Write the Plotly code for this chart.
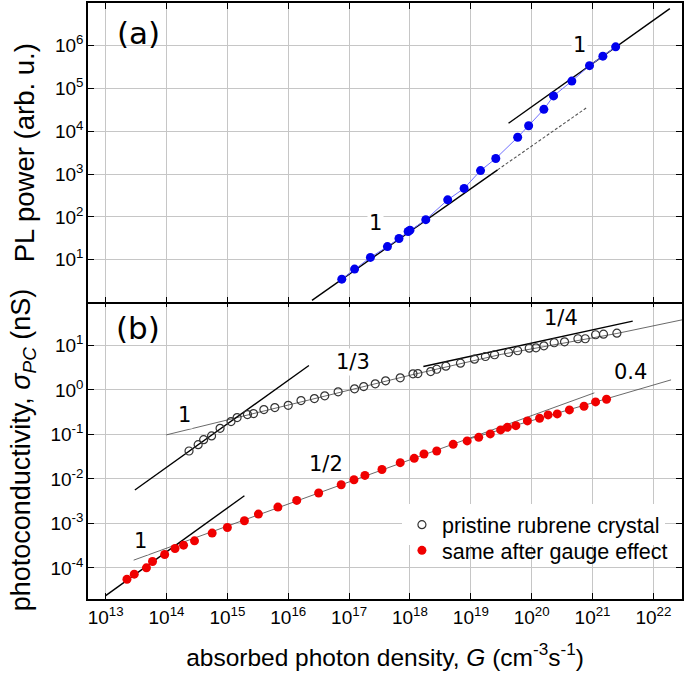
import plotly.graph_objects as go

# ---------------- data (log10 values) ----------------
# Panel (a): PL power vs absorbed photon density
pl_logG = [16.88, 17.09, 17.35, 17.63, 17.82, 17.97, 18.00, 18.26, 18.62, 18.89,
           19.16, 19.41, 19.77, 19.95, 20.20, 20.36, 20.66, 20.95, 21.17, 21.38]
pl_logP = [0.545, 0.781, 1.054, 1.307, 1.495, 1.660, 1.691, 1.936, 2.399, 2.667,
           3.083, 3.366, 3.861, 4.130, 4.514, 4.828, 5.175, 5.535, 5.757, 5.976]

# Panel (b): photoconductivity, pristine crystal
pr_logG = [14.37, 14.52, 14.61, 14.74, 14.88, 15.06, 15.16, 15.33, 15.43, 15.60,
           15.78, 16.00, 16.21, 16.43, 16.60, 16.82, 17.09, 17.24, 17.43, 17.60,
           17.84, 18.05, 18.13, 18.34, 18.44, 18.59, 18.83, 19.06, 19.24, 19.39,
           19.62, 19.77, 19.96, 20.07, 20.20, 20.37, 20.54, 20.76, 20.88, 21.05,
           21.18, 21.40]
pr_logS = [-1.372, -1.230, -1.117, -1.034, -0.863, -0.712, -0.622, -0.554, -0.532, -0.441,
           -0.396, -0.345, -0.239, -0.194, -0.133, -0.043, 0.025, 0.077, 0.137, 0.205,
           0.273, 0.363, 0.369, 0.414, 0.466, 0.534, 0.601, 0.691, 0.752, 0.791,
           0.842, 0.881, 0.939, 0.948, 0.993, 1.061, 1.083, 1.151, 1.151, 1.241,
           1.255, 1.277]

# Panel (b): photoconductivity, after gauge effect
ga_logG = [13.35, 13.47, 13.67, 13.77, 13.97, 14.14, 14.28, 14.46, 14.75, 15.00,
           15.28, 15.51, 15.83, 16.14, 16.50, 16.87, 17.08, 17.26, 17.54, 17.84,
           18.07, 18.23, 18.44, 18.71, 18.94, 19.13, 19.32, 19.49, 19.60, 19.74,
           19.93, 20.13, 20.27, 20.42, 20.62, 20.86, 21.05, 21.23]
ga_logS = [-4.255, -4.142, -4.000, -3.858, -3.700, -3.565, -3.489, -3.392, -3.218, -3.092,
           -2.941, -2.791, -2.633, -2.484, -2.318, -2.131, -2.018, -1.921, -1.788, -1.635,
           -1.538, -1.439, -1.372, -1.223, -1.146, -1.065, -0.989, -0.899, -0.840, -0.802,
           -0.696, -0.637, -0.561, -0.538, -0.448, -0.367, -0.268, -0.209]

# Fit / guide lines (endpoints in log10 units)
a_fit1_low_G = [16.39, 19.44];  a_fit1_low_P = [0.05, 3.10]
a_fit1_dash_G = [19.44, 20.92]; a_fit1_dash_P = [3.10, 4.57]
a_fit1_up_G = [19.62, 22.27];   a_fit1_up_P = [4.19, 6.87]

b_pr_1_G = [13.48, 16.34];      b_pr_1_S = [-2.25, 0.55]
b_pr_thin_G = [13.995, 16.0, 18.0, 19.5, 21.4, 22.48]
b_pr_thin_S = [-1.011, -0.345, 0.33, 0.80, 1.27, 1.579]
b_pr_q_G = [18.22, 21.66];      b_pr_q_S = [0.527, 1.547]

b_ga_1_G = [12.995, 15.28];     b_ga_1_S = [-4.631, -2.378]
b_ga_h_G = [13.46, 21.03];      b_ga_h_S = [-3.827, -0.065]
b_ga_04_G = [19.0, 22.29];      b_ga_04_S = [-1.09, 0.227]

x_tick_exp = list(range(13, 23))
x_tick_text = ["10<sup>%d</sup>" % e for e in x_tick_exp]
ya_tick_exp = [1, 2, 3, 4, 5, 6]
ya_tick_text = ["10<sup>%d</sup>" % e for e in ya_tick_exp]
yb_tick_exp = [-4, -3, -2, -1, 0, 1]
yb_tick_text = ["10<sup>%d</sup>" % e for e in yb_tick_exp]


def p10(v):
    return [10.0 ** e for e in v]


FONT = "Liberation Sans, Arial, sans-serif"
NFONT = "DejaVu Sans, Verdana, sans-serif"

fig = go.Figure()


def line(xs, ys, xa, ya, color="black", width=1.4, dash="solid"):
    fig.add_trace(go.Scatter(x=p10(xs), y=p10(ys), xaxis=xa, yaxis=ya, mode="lines",
                             line=dict(color=color, width=width, dash=dash),
                             showlegend=False, hoverinfo="skip"))


# ---- panel (a): x2 / y2 ----
line(a_fit1_low_G, a_fit1_low_P, "x2", "y2")
line(a_fit1_dash_G, a_fit1_dash_P, "x2", "y2", color="#555555", width=1.1, dash="3px,2px")
line(a_fit1_up_G, a_fit1_up_P, "x2", "y2")

fig.add_trace(go.Scatter(x=p10(pl_logG), y=p10(pl_logP), xaxis="x2", yaxis="y2",
                         mode="lines+markers",
                         line=dict(color="#7070ff", width=1),
                         marker=dict(color="#0000ee", size=9),
                         showlegend=False))

# ---- panel (b): x / y ----
line(b_pr_thin_G, b_pr_thin_S, "x", "y", color="#444444", width=0.8)
line(b_pr_1_G, b_pr_1_S, "x", "y")
line(b_pr_q_G, b_pr_q_S, "x", "y")
line(b_ga_h_G, b_ga_h_S, "x", "y", color="#444444", width=0.8)
line(b_ga_04_G, b_ga_04_S, "x", "y", color="#444444", width=0.8)
line(b_ga_1_G, b_ga_1_S, "x", "y")

fig.add_trace(go.Scatter(x=p10(pr_logG), y=p10(pr_logS), xaxis="x", yaxis="y",
                         mode="markers", name="pristine rubrene crystal", legend="legend",
                         marker=dict(symbol="circle-open", color="#333333", size=8,
                                     line=dict(width=1.2))))
fig.add_trace(go.Scatter(x=p10(ga_logG), y=p10(ga_logS), xaxis="x", yaxis="y",
                         mode="markers", name="same after gauge effect", legend="legend2",
                         marker=dict(color="#f00000", size=9)))

grid = "#c6c6c6"
common_x = dict(type="log", range=[12.71, 22.47], tickvals=p10(x_tick_exp),
                showgrid=True, gridcolor=grid, gridwidth=1, automargin=False,
                showline=True, linecolor="black", linewidth=1.5, mirror="allticks",
                ticks="inside", ticklen=6, tickwidth=1.3, tickcolor="black")
common_y = dict(type="log", showgrid=True, gridcolor=grid, gridwidth=1, automargin=False,
                showline=True, linecolor="black", linewidth=1.5, mirror="allticks",
                ticks="inside", ticklen=6, tickwidth=1.3, tickcolor="black",
                tickfont=dict(family=FONT, size=19, color="black"),
                ticklabelstandoff=-1, zeroline=False)

leg_common = dict(xanchor="left", yanchor="top", borderwidth=0,
                  font=dict(family=FONT, size=21.5, color="black"), itemwidth=30)

fig.update_layout(
    width=685, height=679,
    margin=dict(l=88, r=3, t=3, b=80),
    paper_bgcolor="white", plot_bgcolor="white",
    xaxis=dict(**common_x, anchor="y", ticktext=x_tick_text,
               tickfont=dict(family=FONT, size=19, color="black"),
               title=dict(text="absorbed photon density, <i>G</i> (cm<sup>-3</sup>s<sup>-1</sup>)",
                          font=dict(family=FONT, size=24.5, color="black"), standoff=22)),
    xaxis2=dict(**common_x, anchor="y2", matches="x", showticklabels=False),
    yaxis=dict(**common_y, domain=[0, 0.5], range=[-4.7, 2.0],
               tickvals=p10(yb_tick_exp), ticktext=yb_tick_text,
               title=dict(text="photoconductivity, <i>σ<sub>PC</sub></i> (nS)", standoff=12,
                          font=dict(family=FONT, size=27, color="black"))),
    yaxis2=dict(**common_y, domain=[0.4975, 1], range=[0, 7],
                tickvals=p10(ya_tick_exp), ticktext=ya_tick_text,
                title=dict(text="PL power (arb. u.)", standoff=12,
                           font=dict(family=FONT, size=27.5, color="black"))),
    legend=dict(x=0.5285, y=0.159, bgcolor="white", **leg_common),
    legend2=dict(x=0.5285, y=0.116, bgcolor="rgba(0,0,0,0)", **leg_common),
    showlegend=True,
)

ann = [
    ("(a)", 13.54, 6.31, "x2", "y2", 31),
    ("1", 17.43, 1.854, "x2", "y2", 21),
    ("1", 20.78, 6.01, "x2", "y2", 21),
    ("(b)", 13.53, 1.385, "x", "y", 31),
    ("1", 14.30, -0.552, "x", "y", 21),
    ("1/3", 17.06, 0.633, "x", "y", 21),
    ("1/4", 20.48, 1.61, "x", "y", 21),
    ("0.4", 21.63, 0.408, "x", "y", 21),
    ("1/2", 16.62, -1.656, "x", "y", 21),
    ("1", 13.57, -3.40, "x", "y", 21),
]
for t, ax, ay, xr, yr, fs in ann:
    fig.add_annotation(text=t, x=ax, y=ay, xref=xr, yref=yr, showarrow=False,
                       font=dict(family=NFONT, size=fs, color="black"),
                       bgcolor="white" if fs < 30 else "rgba(0,0,0,0)")

fig.write_html("out.html", config={"displayModeBar": False},
               post_script="document.body.style.margin='0';document.body.style.padding='0';")
